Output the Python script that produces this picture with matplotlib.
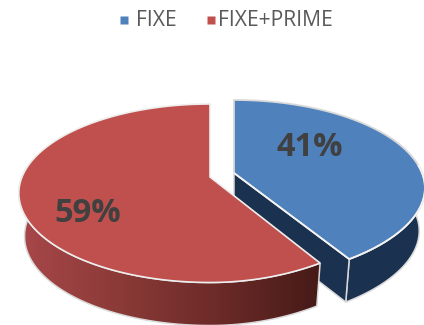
import numpy as np
import matplotlib
matplotlib.use('Agg')
import matplotlib.pyplot as plt
from matplotlib.colors import LinearSegmentedColormap
from matplotlib.patches import Polygon

labels = ['FIXE', 'FIXE+PRIME']
shares = [41, 59]
top_colors = ['#4f81bd', '#c0504d']

RX = 188
RY = 86.3
K = 0.182
DEPTH = 43
SHRINK = 0.97


def rim(cx, cy, a0, a1, shrink=1.0, drop=0, pinch=0.0):
    # tilted circle, angles run clockwise from 12 o'clock
    t = np.radians(np.linspace(a0, a1, 200))
    u, v = np.sin(t), np.cos(t)
    w = 1 + K * v
    squeeze = np.where(u > 0, 1 - pinch * np.minimum(v, 0) ** 2, 1)
    return cx + shrink * RX * u * squeeze / w, cy - RY * v / w + drop


fig = plt.figure(figsize=(4.24, 3.25), dpi=100)
ax = fig.add_axes([0, 0, 1, 1])
ax.set_xlim(0, 424)
ax.set_ylim(325, 0)
ax.axis('off')

split = 360 * shares[0] / sum(shares)
blue_c = (234, 173)
red_c = (210, 177)
blue_pinch = 0.045
red_pinch = 0.105
edge = '#d9d9d9'

# blue slice: cut face, outer wall, then the top
bx, by = rim(*blue_c, 60, split, pinch=blue_pinch)
bx2, by2 = rim(*blue_c, 60, split, SHRINK, DEPTH, blue_pinch)
ax.add_patch(Polygon(np.c_[np.r_[bx, bx2[::-1]], np.r_[by, by2[::-1]]],
                     fc='#1b3150', ec=edge, lw=1.1, zorder=2))
cut = [blue_c, (bx[-1], by[-1]), (bx2[-1], by2[-1]), (blue_c[0], blue_c[1] + DEPTH)]
ax.add_patch(Polygon(cut, fc='#1b3150', ec=edge, lw=1.1, zorder=2))
tx, ty = rim(*blue_c, 0, split, pinch=blue_pinch)
ax.add_patch(Polygon(np.c_[np.r_[blue_c[0], tx], np.r_[blue_c[1], ty]],
                     fc=top_colors[0], ec=edge, lw=1.3, zorder=3))
# brighter rim along the front of the top face
fx, fy = rim(*blue_c, 85, split, pinch=blue_pinch)
ax.plot(np.r_[fx, blue_c[0]], np.r_[fy, blue_c[1]], color='#f4f4f4', lw=1.2, zorder=3)

# red slice: wall with a left-to-right shading, then the top
rx, ry = rim(*red_c, split, 285, pinch=red_pinch)
rx2, ry2 = rim(*red_c, split, 285, SHRINK, DEPTH, red_pinch)
wall = Polygon(np.c_[np.r_[rx, rx2[::-1]], np.r_[ry, ry2[::-1]]],
               fc='none', ec=edge, lw=1.1, zorder=5)
ax.add_patch(wall)
shade = LinearSegmentedColormap.from_list('wall', ['#a8474a', '#8a3a37', '#6b2a28', '#451a17'])
im = ax.imshow(np.linspace(0, 1, 256)[None, :], cmap=shade, aspect='auto',
               extent=(20, 322, 325, 180), zorder=4)
im.set_clip_path(wall)
ax.set_xlim(0, 424)
ax.set_ylim(325, 0)
tx, ty = rim(*red_c, split, 360, pinch=red_pinch)
ax.add_patch(Polygon(np.c_[np.r_[red_c[0], tx], np.r_[red_c[1], ty]],
                     fc=top_colors[1], ec='#eeeeee', lw=1.2, zorder=6))

# percentage labels
label_pos = [(310, 148), (88, 214)]
for share, (x, y) in zip(shares, label_pos):
    ax.text(x, y, f'{share}%', ha='center', va='center', fontsize=23.5,
            fontweight='bold', family='Open Sans', color='#404040', zorder=7)

# legend row
marker_x = [124, 211]
text_x = [136, 218]
for name, col, mx, lx in zip(labels, top_colors, marker_x, text_x):
    ax.plot(mx, 20, 's', ms=5.5, color=col, mec='none', zorder=7)
    ax.text(lx, 20.5, name, ha='left', va='center', fontsize=15.2,
            family='Open Sans', color='#595959', zorder=7)

fig.savefig('out.png', dpi=100)
